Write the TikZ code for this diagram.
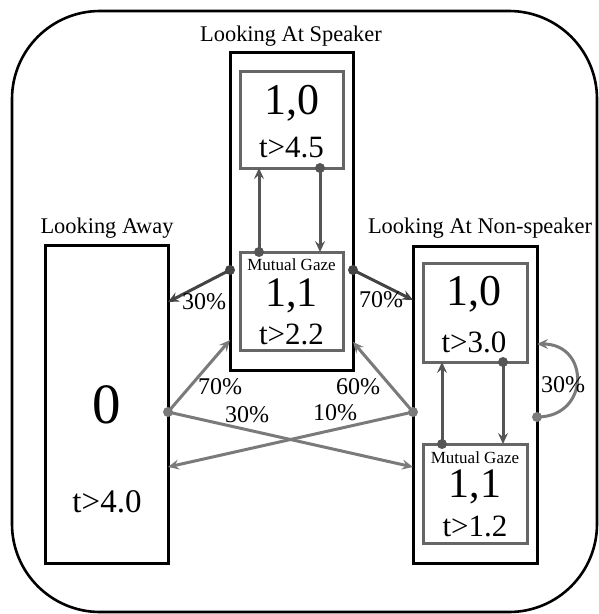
\documentclass[tikz,border=0pt]{standalone}
\usepackage{fontspec}
\setmainfont{Liberation Serif}
\usetikzlibrary{arrows.meta}
\definecolor{boxgray}{HTML}{666666}
\definecolor{inarrow}{HTML}{555555}
\definecolor{darkarrow}{HTML}{444444}
\definecolor{lightarrow}{HTML}{7A7A7A}
\tikzset{
  x=1pt, y=-1pt,
  outerbox/.style={draw=black, line width=3pt, inner sep=0pt},
  innerbox/.style={draw=boxgray, line width=3pt, inner sep=0pt},
  conn/.style={line width=3pt, -{Stealth[length=11pt,width=10pt,inset=4pt]}},
  dotc/.style={circle, fill, inner sep=0pt, minimum size=10pt},
  title/.style={font=\fontsize{22.4}{24}\selectfont, inner sep=0pt},
  pct/.style={font=\fontsize{24}{26}\selectfont, inner sep=0pt},
  big/.style={font=\fontsize{44}{46}\selectfont, inner sep=0pt},
  bigb/.style={font=\fontsize{42}{44}\selectfont, inner sep=0pt},
  tlab/.style={font=\fontsize{31}{33}\selectfont, inner sep=0pt},
  mg/.style={font=\fontsize{17}{19}\selectfont, inner sep=0pt},
}
\begin{document}
\begin{tikzpicture}
\useasboundingbox (0,0) rectangle (599,614);
\draw[line width=2.6pt, rounded corners=88pt] (12,11) rectangle (597,612);

% group boxes
\node[outerbox, minimum width=123pt, minimum height=318pt] (spk) at (291.5,211) {};
\node[outerbox, minimum width=124pt, minimum height=317pt] (non) at (475,404.5) {};
\node[outerbox, minimum width=123pt, minimum height=318pt] (away) at (106.5,404) {};

% inner boxes
\node[innerbox, minimum width=103pt, minimum height=97pt] (spkT) at (291.5,119.5) {};
\node[innerbox, minimum width=103pt, minimum height=98pt] (spkM) at (291.5,301) {};
\node[innerbox, minimum width=104pt, minimum height=99pt] (nonT) at (475,312.5) {};
\node[innerbox, minimum width=104pt, minimum height=99pt] (nonM) at (475,493.5) {};

% titles
\node[title] (tSpk) at (291,36) {Looking At Speaker};
\node[title] (tNon) at (480,228) {Looking At Non-speaker};
\node[title] (tAway) at (107,228) {Looking Away};

% box texts
\node[big] (s10) at (291.5,103) {1,0};
\node[tlab] (s45) at (291.5,148) {t>4.5};
\node[mg] (smg) at (291.5,265) {Mutual Gaze};
\node[bigb] (s11) at (291.5,296) {1,1};
\node[tlab] (s22) at (291.5,334) {t>2.2};

\node[big] (n10) at (474,294) {1,0};
\node[tlab] (n30) at (474,342) {t>3.0};
\node[mg] (nmg) at (475,458) {Mutual Gaze};
\node[bigb] (n11) at (475,487) {1,1};
\node[tlab] (n12) at (475,526) {t>1.2};

\node[font=\fontsize{57}{59}\selectfont, inner sep=0pt] (a0) at (107,405) {0};
\node[font=\fontsize{33}{35}\selectfont, inner sep=0pt] (a40) at (107,502) {t>4.0};

% anchor coordinates
\coordinate (sUpS) at (259,252); \coordinate (sUpE) at (259,168);
\coordinate (sDnS) at (320,168); \coordinate (sDnE) at (320,252);
\coordinate (nUpS) at (442,444); \coordinate (nUpE) at (442,362);
\coordinate (nDnS) at (503,362); \coordinate (nDnE) at (503,444);
\coordinate (sL) at (230,270); \coordinate (aIn1) at (168,302);
\coordinate (sR) at (353,270); \coordinate (nIn1) at (413,300);
\coordinate (aD) at (168,412); \coordinate (sIn2) at (230,340);
\coordinate (nIn2) at (413,467);
\coordinate (nD) at (413,412); \coordinate (sIn3) at (353,342);
\coordinate (aIn2) at (168,467);
\coordinate (loopS) at (537,417); \coordinate (loopE) at (537,344);

% inner arrows
\draw[conn, inarrow] (sUpS) -- (sUpE);
\draw[conn, inarrow] (sDnS) -- (sDnE);
\draw[conn, inarrow] (nUpS) -- (nUpE);
\draw[conn, inarrow] (nDnS) -- (nDnE);
\node[dotc, inarrow] at (sUpS) {};
\node[dotc, inarrow] at (sDnS) {};
\node[dotc, inarrow] at (nUpS) {};
\node[dotc, inarrow] at (nDnS) {};

% speaker outgoing
\draw[conn, darkarrow] (sL) -- (aIn1);
\draw[conn, darkarrow] (sR) -- (nIn1);
\node[dotc, darkarrow] at (sL) {};
\node[dotc, darkarrow] at (sR) {};

% away / non-speaker outgoing
\draw[conn, lightarrow] (aD) -- (sIn2);
\draw[conn, lightarrow] (aD) -- (nIn2);
\draw[conn, lightarrow] (nD) -- (sIn3);
\draw[conn, lightarrow] (nD) -- (aIn2);
\draw[conn, lightarrow] (loopS) .. controls (590,417) and (590,344) .. (loopE);
\node[dotc, lightarrow] at (aD) {};
\node[dotc, lightarrow] at (nD) {};
\node[dotc, lightarrow] at (loopS) {};

% labels
\node[pct] (p1) at (204,302) {30\%};
\node[pct] (p2) at (381,300) {70\%};
\node[pct] (p3) at (220,387) {70\%};
\node[pct] (p4) at (247,415) {30\%};
\node[pct] (p5) at (358,387) {60\%};
\node[pct] (p6) at (335,413) {10\%};
\node[pct] (p7) at (563,385) {30\%};
\end{tikzpicture}
\end{document}
